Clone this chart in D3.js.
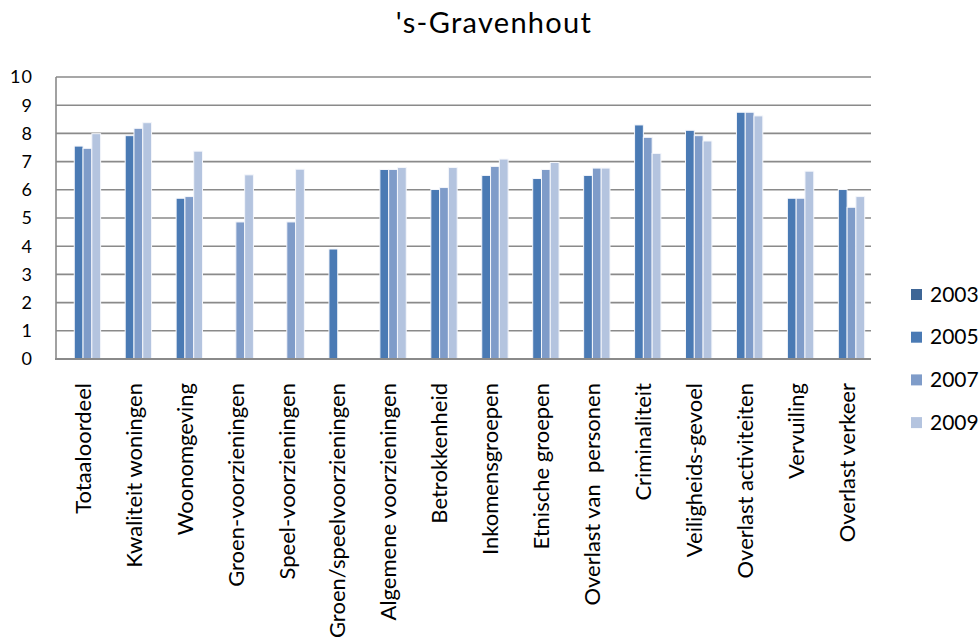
<!DOCTYPE html>
<html>
<head>
<meta charset="utf-8">
<script src="https://cdn.jsdelivr.net/npm/d3@7"></script>
<style>
  body { margin: 0; background: #fff; }
  svg { font-family: Lato, "Open Sans", sans-serif; }
</style>
</head>
<body>
<div id="chart"></div>
<script>
// 's-Gravenhout: wijkscores per thema, 2003-2009

var categories = ["Totaaloordeel", "Kwaliteit woningen", "Woonomgeving", "Groen-voorzieningen",
    "Speel-voorzieningen", "Groen/speelvoorzieningen", "Algemene voorzieningen", "Betrokkenheid",
    "Inkomensgroepen", "Etnische groepen", "Overlast van  personen", "Criminaliteit",
    "Veiligheids-gevoel", "Overlast activiteiten", "Vervuiling", "Overlast verkeer"];

var years = ["2003", "2005", "2007", "2009"];

var values2003 = [null, null, null, null, null, null, null, null, null, null, null, null, null, null, null, null];
var values2005 = [7.55, 7.92, 5.70, null, null, 3.90, 6.72, 6.01, 6.51, 6.40, 6.51, 8.30, 8.11, 8.75, 5.70, 6.01];
var values2007 = [7.47, 8.18, 5.76, 4.86, 4.86, null, 6.72, 6.08, 6.83, 6.72, 6.77, 7.86, 7.92, 8.75, 5.70, 5.38];
var values2009 = [7.99, 8.38, 7.37, 6.53, 6.73, null, 6.79, 6.79, 7.09, 6.97, 6.77, 7.29, 7.73, 8.62, 6.66, 5.76];

var yTicks = [0, 1, 2, 3, 4, 5, 6, 7, 8, 9, 10];
var colors = ["#3e6696", "#4a7ab4", "#7f9cc9", "#b4c4df"];

var series = [values2003, values2005, values2007, values2009];

var width = 980, height = 640;
var plot = { left: 56, right: 871, top: 77, bottom: 359 };

var svg = d3.select("#chart").append("svg")
    .attr("width", width)
    .attr("height", height);

var x0 = d3.scaleBand()
    .domain(categories)
    .range([plot.left, plot.right])
    .paddingInner(0.31)
    .paddingOuter(0.155)
    .align(0.6);

var x1 = d3.scaleBand()
    .domain(years)
    .range([0, x0.bandwidth()]);

var y = d3.scaleLinear()
    .domain([0, 10])
    .range([plot.bottom, plot.top]);

var color = d3.scaleOrdinal().domain(years).range(colors);

// gridlines
svg.append("g")
    .selectAll("line")
    .data(yTicks.filter(function(d) { return d > 0; }))
    .enter().append("line")
    .attr("x1", plot.left)
    .attr("x2", plot.right)
    .attr("y1", function(d) { return y(d); })
    .attr("y2", function(d) { return y(d); })
    .attr("stroke", "#8a8a8a")
    .attr("stroke-width", 1.6);

// y axis line
svg.append("line")
    .attr("x1", plot.left).attr("x2", plot.left)
    .attr("y1", plot.top).attr("y2", plot.bottom)
    .attr("stroke", "#8a8a8a")
    .attr("stroke-width", 1.6);

// y labels
svg.append("g")
    .selectAll("text")
    .data(yTicks)
    .enter().append("text")
    .attr("x", 33)
    .attr("y", function(d) { return y(d); })
    .attr("dy", "0.36em")
    .attr("text-anchor", "end")
    .attr("font-size", 18)
    .attr("letter-spacing", 1)
    .attr("fill", "#000")
    .text(function(d) { return d; });

// bars
var rows = categories.map(function(c, i) {
    return { cat: c, vals: years.map(function(yr, j) { return { year: yr, v: series[j][i] }; }) };
});

var groups = svg.append("g")
    .selectAll("g")
    .data(rows)
    .enter().append("g")
    .attr("transform", function(d) { return "translate(" + x0(d.cat) + ",0)"; });

groups.selectAll("rect")
    .data(function(d) { return d.vals.filter(function(v) { return v.v != null; }); })
    .enter().append("rect")
    .attr("x", function(d) { return x1(d.year); })
    .attr("width", x1.bandwidth())
    .attr("y", function(d) { return y(d.v); })
    .attr("height", function(d) { return y(0) - y(d.v); })
    .attr("fill", function(d) { return color(d.year); })
    .attr("stroke", "#f4f6fb")
    .attr("stroke-width", 1);

// x axis line
svg.append("line")
    .attr("x1", plot.left - 1).attr("x2", plot.right)
    .attr("y1", plot.bottom).attr("y2", plot.bottom)
    .attr("stroke", "#8a8a8a")
    .attr("stroke-width", 2);

// category labels
svg.append("g")
    .selectAll("text")
    .data(categories)
    .enter().append("text")
    .attr("transform", function(d) {
        return "translate(" + (x0(d) + x0.bandwidth() / 2) + ",383) rotate(-90)";
    })
    .attr("dy", "0.35em")
    .attr("text-anchor", "end")
    .attr("font-size", 22)
    .attr("fill", "#000")
    .style("white-space", "pre")
    .text(function(d) { return d; });

// title
svg.append("text")
    .attr("x", 494)
    .attr("y", 33)
    .attr("text-anchor", "middle")
    .attr("font-size", 29)
    .attr("letter-spacing", 1.3)
    .attr("fill", "#000")
    .text("'s-Gravenhout");

// legend
var legend = svg.append("g")
    .selectAll("g")
    .data(years)
    .enter().append("g")
    .attr("transform", function(d, i) { return "translate(911," + (294 + i * 42.7) + ")"; });

legend.append("rect")
    .attr("x", 0)
    .attr("y", -5)
    .attr("width", 11)
    .attr("height", 11)
    .attr("fill", function(d) { return color(d); });

legend.append("text")
    .attr("x", 19)
    .attr("y", 0)
    .attr("dy", "0.36em")
    .attr("font-size", 21)
    .attr("fill", "#000")
    .text(function(d) { return d; });
</script>
</body>
</html>
